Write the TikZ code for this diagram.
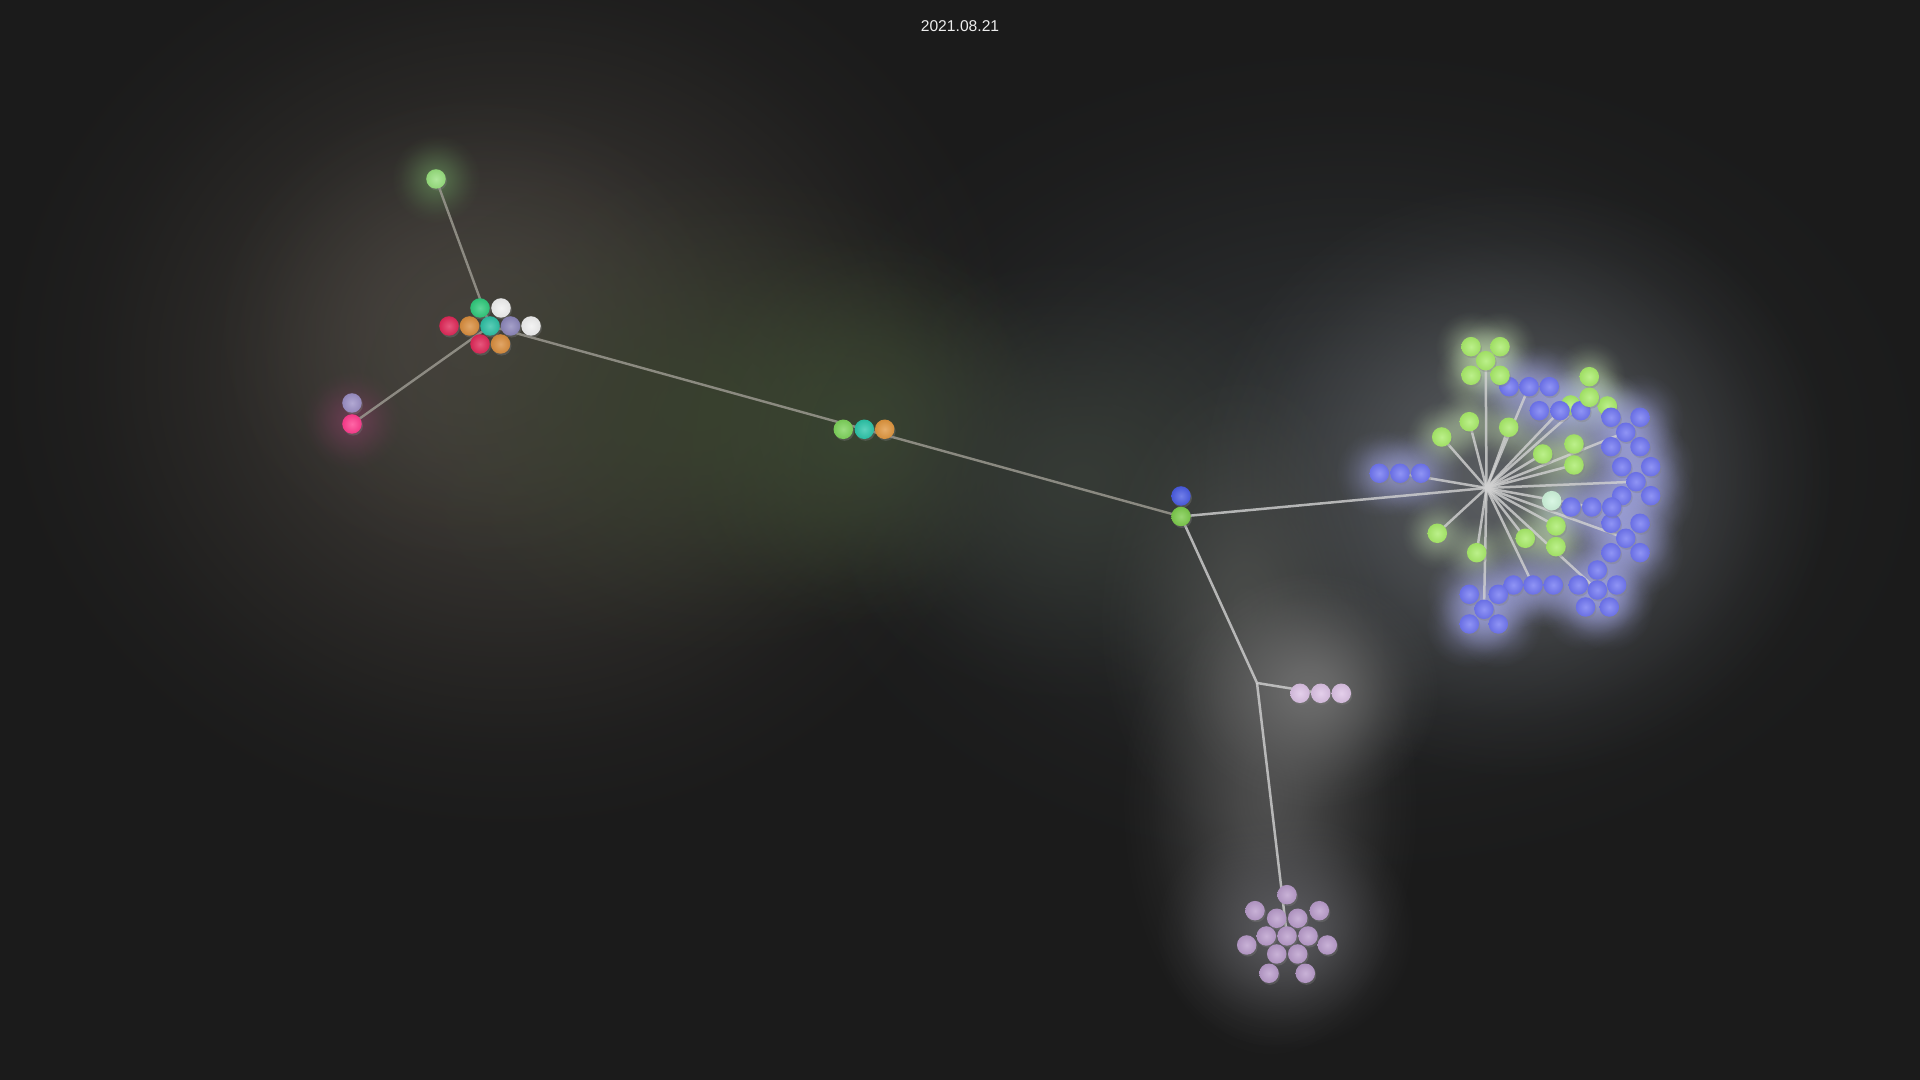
\documentclass[tikz,border=0pt]{standalone}
\usepackage{fontspec}
\newfontfamily\titlefont{Liberation Sans}
\usetikzlibrary{shadows,fadings}
\pgfdeclarelayer{glowlayer}
\pgfdeclarelayer{linklayer}
\pgfsetlayers{glowlayer,linklayer,main}
\pgfdeclareradialshading{glowshade}{\pgfpointorigin}{color(0bp)=(white); color(5bp)=(black!15); color(10bp)=(black!40); color(15bp)=(black!66); color(20bp)=(black!88); color(25bp)=(black); color(50bp)=(black)}
\pgfdeclarefading{glow}{\pgfuseshading{glowshade}}
\definecolor{bg}{HTML}{1B1B1B}
\definecolor{lgreen}{HTML}{98E07E}
\definecolor{cgreen}{HTML}{2FC97B}
\definecolor{cwhite}{HTML}{F0F0F0}
\definecolor{cred}{HTML}{E02858}
\definecolor{corange}{HTML}{D98D3D}
\definecolor{cteal}{HTML}{2DBFA3}
\definecolor{cpurple}{HTML}{8C86BA}
\definecolor{pink}{HTML}{FF3C8E}
\definecolor{pinkp}{HTML}{9C90C6}
\definecolor{mgreen}{HTML}{7ED35B}
\definecolor{mteal}{HTML}{2CC5A9}
\definecolor{morange}{HTML}{E0963E}
\definecolor{nblue}{HTML}{4A5CE3}
\definecolor{ngreen}{HTML}{7CCB4B}
\definecolor{lilac}{HTML}{DCC2E5}
\definecolor{lilacd}{HTML}{B99CCB}
\definecolor{gbig}{HTML}{A9EC6A}
\definecolor{bbig}{HTML}{7076F2}
\definecolor{gpale}{HTML}{CFF5DC}
\definecolor{linkc}{HTML}{D2D2D2}
\definecolor{linkl}{HTML}{9A988F}
\definecolor{gw0}{HTML}{303335}
\definecolor{gw1}{HTML}{423E39}
\definecolor{gw1b}{HTML}{47433E}
\definecolor{gw2}{HTML}{39402F}
\definecolor{gw3}{HTML}{3A4531}
\definecolor{gw4}{HTML}{363B36}
\definecolor{gw5}{HTML}{5C5F63}
\definecolor{gw6}{HTML}{4A4C4A}
\definecolor{gw7}{HTML}{4F4F4F}
\definecolor{gw8}{HTML}{6D6D6D}
\definecolor{gw9}{HTML}{5A5A5E}
\definecolor{gwg}{HTML}{C8E4B4}
\definecolor{gwb}{HTML}{A8ACEC}
\definecolor{gw12}{HTML}{56704C}
\definecolor{gw13}{HTML}{7A3F5C}
\begin{document}
\begin{tikzpicture}[x=0.01cm,y=-0.01cm,
  ball/.style={circle, inner sep=0pt, minimum size=0.195cm, draw=none,
    inner color=#1!78!white, outer color=#1!94!black,
    drop shadow={shadow xshift=0.012cm, shadow yshift=-0.018cm, opacity=0.35}},
  link/.style={draw=linkc, line width=0.025cm, opacity=0.8},
  linkL/.style={draw=linkl, line width=0.024cm, opacity=0.85},
  halo/.style={fill=#1, path fading=glow}]
\useasboundingbox (0,0) rectangle (1920,1080);

\node[font=\titlefont\fontsize{4.45pt}{5pt}\selectfont, text=white!93!black, inner sep=0pt] (title) at (960,26) {2021.08.21};

% ---------- left cluster ----------
\node[ball=lgreen] (lg) at (436,179) {};
\node[ball=pinkp] (pp) at (352,403) {};
\node[ball=pink] (pk) at (352,424) {};
\node[ball=cgreen] (c1) at (480,308) {};
\node[ball=cwhite] (c2) at (501,308) {};
\node[ball=cred] (c3) at (449,326) {};
\node[ball=corange] (c4) at (469.5,326) {};
\node[ball=cteal] (c5) at (490,326) {};
\node[ball=cpurple] (c6) at (510.5,326) {};
\node[ball=cwhite] (c7) at (531,326) {};
\node[ball=cred] (c8) at (480,344) {};
\node[ball=corange] (c9) at (500.5,344) {};

% ---------- middle triple ----------
\node[ball=mgreen] (m1) at (843.3,429.3) {};
\node[ball=mteal] (m2) at (864.3,429.3) {};
\node[ball=morange] (m3) at (884.7,429.3) {};

% ---------- node pair ----------
\node[ball=nblue] (nb) at (1181,496) {};
\node[ball=ngreen] (ng) at (1181,516.5) {};

\coordinate (jn) at (1257,683);
\coordinate (h) at (1486.5,488);

% ---------- lilac triple ----------
\node[ball=lilac] (p1) at (1300,693.3) {};
\node[ball=lilac] (p2) at (1320.7,693.3) {};
\node[ball=lilac] (p3) at (1341.3,693.3) {};

% ---------- bottom cluster ----------
\node[ball=lilacd] (q1) at (1287,894.7) {};
\node[ball=lilacd] (q2) at (1255,910.7) {};
\node[ball=lilacd] (q3) at (1319.3,910.7) {};
\node[ball=lilacd] (q4) at (1276.7,918.3) {};
\node[ball=lilacd] (q5) at (1297.7,918.3) {};
\node[ball=lilacd] (q6) at (1266.3,936) {};
\node[ball=lilacd] (q7) at (1287,936) {};
\node[ball=lilacd] (q8) at (1308,936) {};
\node[ball=lilacd] (q9) at (1246.7,945) {};
\node[ball=lilacd] (q10) at (1327.3,945) {};
\node[ball=lilacd] (q11) at (1276.7,954) {};
\node[ball=lilacd] (q12) at (1297.7,954) {};
\node[ball=lilacd] (q13) at (1269,973.3) {};
\node[ball=lilacd] (q14) at (1305.3,973.3) {};

% ---------- right cluster ----------
\node[ball=bbig] (ba1) at (1509,386.7) {};
\node[ball=bbig] (ba2) at (1529,386.7) {};
\node[ball=bbig] (ba3) at (1549.3,386.7) {};
\node[ball=gbig] (ga1) at (1471,346.7) {};
\node[ball=gbig] (ga2) at (1500,346.7) {};
\node[ball=gbig] (ga0) at (1485.7,360.7) {};
\node[ball=gbig] (ga3) at (1471,375.3) {};
\node[ball=gbig] (ga4) at (1500,375.3) {};
\node[ball=gbig] (gc2) at (1570.7,405) {};
\node[ball=bbig] (bb1) at (1539.3,410.7) {};
\node[ball=bbig] (bb2) at (1560,410.7) {};
\node[ball=bbig] (bb3) at (1580.7,410.7) {};
\node[ball=gbig] (gc3) at (1607.3,406) {};
\node[ball=gbig] (gc1) at (1589.3,376.7) {};
\node[ball=gbig] (gc0) at (1589.3,397.3) {};
\node[ball=bbig] (bc1) at (1611,417.3) {};
\node[ball=bbig] (bc2) at (1640,417.3) {};
\node[ball=bbig] (bc0) at (1625.7,432.3) {};
\node[ball=bbig] (bc3) at (1611,446.7) {};
\node[ball=bbig] (bc4) at (1640,446.7) {};
\node[ball=bbig] (bd1) at (1621.7,466.7) {};
\node[ball=bbig] (bd2) at (1650.7,466.7) {};
\node[ball=bbig] (bd0) at (1636,481.7) {};
\node[ball=bbig] (bd3) at (1621.7,495.7) {};
\node[ball=bbig] (bd4) at (1650.7,495.7) {};
\node[ball=bbig] (bf1) at (1611,523.3) {};
\node[ball=bbig] (bf2) at (1640,523.3) {};
\node[ball=bbig] (bf0) at (1625.7,538.3) {};
\node[ball=bbig] (bf3) at (1611,552.7) {};
\node[ball=bbig] (bf4) at (1640,552.7) {};
\node[ball=bbig] (be1) at (1571,507) {};
\node[ball=bbig] (be2) at (1591.7,507) {};
\node[ball=bbig] (be3) at (1611.7,507) {};
\node[ball=gpale] (gp) at (1551.7,500.7) {};
\node[ball=gbig] (gj) at (1469.3,421.7) {};
\node[ball=gbig] (gk) at (1508.7,427.3) {};
\node[ball=gbig] (gl) at (1441.7,437) {};
\node[ball=gbig] (gd1) at (1574,444) {};
\node[ball=gbig] (gd2) at (1574,465) {};
\node[ball=gbig] (ge) at (1542.7,454) {};
\node[ball=gbig] (gf1) at (1556,526) {};
\node[ball=gbig] (gf2) at (1556,546.7) {};
\node[ball=gbig] (gg) at (1525.3,538.3) {};
\node[ball=gbig] (gh) at (1437.3,533.3) {};
\node[ball=gbig] (gi) at (1476.7,552.7) {};
\node[ball=bbig] (bg1) at (1597.3,570) {};
\node[ball=bbig] (bg2) at (1578.3,585) {};
\node[ball=bbig] (bg3) at (1616.7,585) {};
\node[ball=bbig] (bg0) at (1597.3,590) {};
\node[ball=bbig] (bg4) at (1585.5,607) {};
\node[ball=bbig] (bg5) at (1609.3,607) {};
\node[ball=bbig] (bh1) at (1513.3,585) {};
\node[ball=bbig] (bh2) at (1533,585) {};
\node[ball=bbig] (bh3) at (1553.3,585) {};
\node[ball=bbig] (bi1) at (1469.3,594.3) {};
\node[ball=bbig] (bi2) at (1498.3,594.3) {};
\node[ball=bbig] (bi0) at (1484,609.3) {};
\node[ball=bbig] (bi3) at (1469.3,624) {};
\node[ball=bbig] (bi4) at (1498.3,624) {};
\node[ball=bbig] (bj1) at (1379.3,473.3) {};
\node[ball=bbig] (bj2) at (1400,473.3) {};
\node[ball=bbig] (bj3) at (1420.7,473.3) {};

% ---------- connectors ----------
\begin{pgfonlayer}{linklayer}
\draw[linkL] (lg.center) -- (c5.center);
\draw[linkL] (pk.center) -- (c5.center);
\draw[linkL] (c5.center) -- (m2.center);
\draw[linkL] (m2.center) -- (ng.center);
\draw[link] (ng.center) -- (jn) -- (p2.center);
\draw[link] (jn) -- (q7.center);
\draw[link] (ng.center) -- (h);
\foreach \t in {ga0,ba2,bb2,gc0,bc0,bd0,be2,bf0,bg0,bh2,bi0,bj2,gj,gk,gl,gd2,ge,gf1,gg,gh,gi}
  \draw[link] (h) -- (\t.center);
\end{pgfonlayer}

% ---------- background and glows ----------
\begin{pgfonlayer}{glowlayer}
\fill[bg] (0,0) rectangle (1920,1080);
\fill[halo=gw0] (1350,460) ellipse (600 and 430);
\fill[halo=gw1] (510,370) ellipse (520 and 470);
\fill[halo=gw1b] (470,330) ellipse (260 and 240);
\fill[halo=gw2] (700,410) ellipse (340 and 250);
\fill[halo=gw3] (864,430) ellipse (220 and 200);
\fill[halo=gw4] (1080,480) ellipse (280 and 230);
\fill[halo=gw5] (1515,480) ellipse (320 and 300);
\fill[halo=gw6] (1245,610) ellipse (150 and 240);
\fill[halo=gw7] (1270,800) ellipse (150 and 260);
\fill[halo=gw8] (1310,690) ellipse (130 and 120);
\fill[halo=gw9] (1285,930) ellipse (130 and 120);
\foreach \t in {ga0,ga1,ga2,ga3,ga4,gc0,gc1,gc2,gc3,gj,gk,gl,gd1,gd2,ge,gf1,gf2,gg,gh,gi,gp}
  \fill[halo=gwg, opacity=0.5] (\t.center) ellipse (36 and 36);
\foreach \t in {ba1,ba2,ba3,bb1,bb2,bb3,bc0,bc1,bc2,bc3,bc4,bd0,bd1,bd2,bd3,bd4,be1,be2,be3,bf0,bf1,bf2,bf3,bf4,bg0,bg1,bg2,bg3,bg4,bg5,bh1,bh2,bh3,bi0,bi1,bi2,bi3,bi4,bj1,bj2,bj3}
  \fill[halo=gwb, opacity=0.45] (\t.center) ellipse (44 and 44);
\fill[halo=gw12] (436,179) ellipse (45 and 45);
\fill[halo=gw13, opacity=0.7] (352,420) ellipse (50 and 50);
\end{pgfonlayer}
\end{tikzpicture}
\end{document}
